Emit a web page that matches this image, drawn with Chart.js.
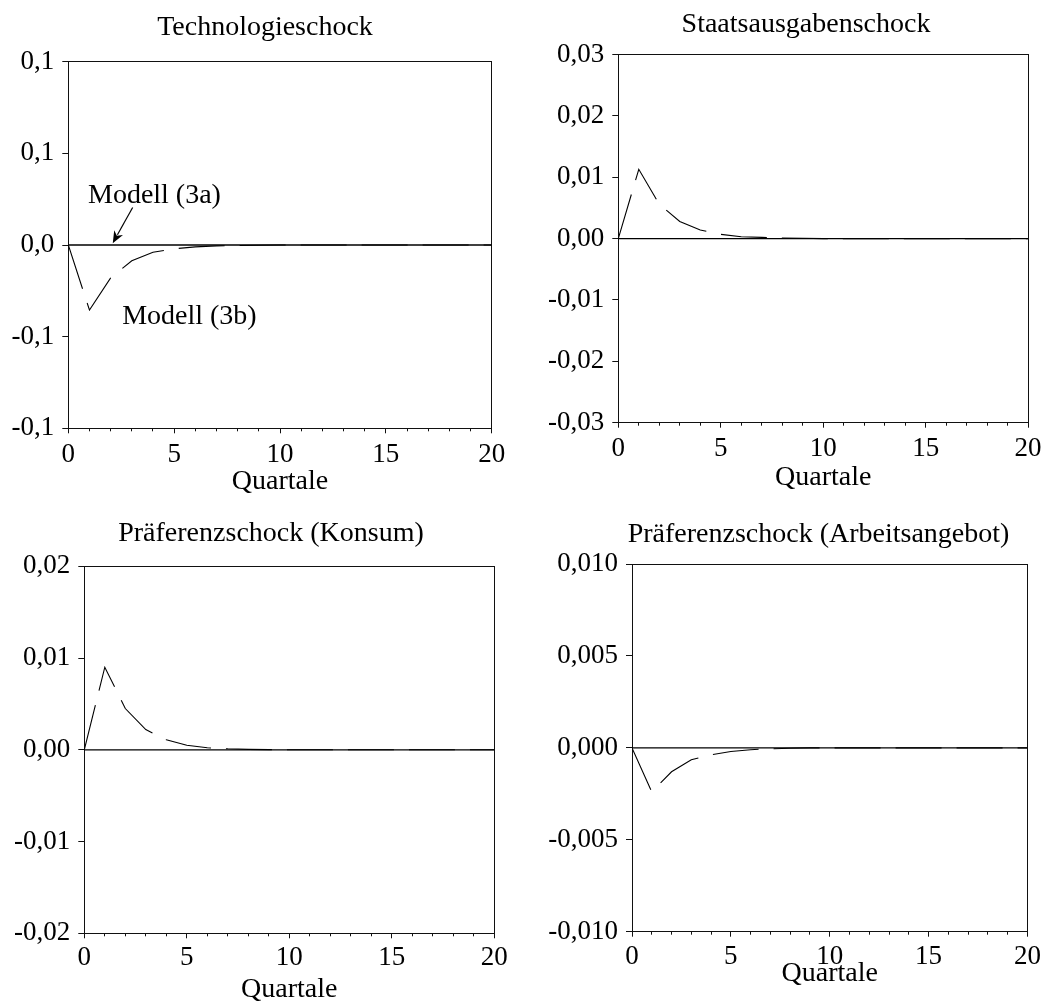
<!DOCTYPE html>
<html>
<head>
<meta charset="utf-8">
<script src="https://cdn.jsdelivr.net/npm/chart.js@4.4.0/dist/chart.umd.min.js"></script>
<style>
html, body { margin: 0; padding: 0; background: #fff; overflow: hidden; width: 1043px; height: 1001px; }
canvas { position: absolute; display: block; }
</style>
</head>
<body>
<script>
// ---------------- data ----------------
const quarters = [0,1,2,3,4,5,6,7,8,9,10,11,12,13,14,15,16,17,18,19,20];
const xTickValues = [0,5,10,15,20];
const xTickLabels = ["0","5","10","15","20"];

const panelTitles = ["Technologieschock", "Staatsausgabenschock", "Präferenzschock (Konsum)", "Präferenzschock (Arbeitsangebot)"];
const xAxisTitle = "Quartale";
const seriesNames = ["Modell (3a)", "Modell (3b)"];

// Modell (3a): solid line
const tech3a  = [0,0,0,0,0,0,0,0,0,0,0,0,0,0,0,0,0,0,0,0,0];
const gov3a   = [0,0,0,0,0,0,0,0,0,0,0,0,0,0,0,0,0,0,0,0,0];
const cons3a  = [0,0,0,0,0,0,0,0,0,0,0,0,0,0,0,0,0,0,0,0,0];
const labor3a = [0,0,0,0,0,0,0,0,0,0,0,0,0,0,0,0,0,0,0,0,0];

// Modell (3b): dashed line
const tech3b  = [0, -0.0355, -0.0180, -0.0086, -0.0040, -0.0021, -0.0010, -0.0005, -0.0003, -0.0001, 0, 0, 0, 0, 0, 0, 0, 0, 0, 0, 0];
const gov3b   = [0, 0.0113, 0.0056, 0.0028, 0.0014, 0.0007, 0.0003, 0.0002, 0.0001, 0.00005, 0, 0, 0, 0, 0, 0, 0, 0, 0, 0, 0];
const cons3b  = [0, 0.0090, 0.0045, 0.0022, 0.0011, 0.0005, 0.00022, 0.00011, 0.00005, 0.00002, 0, 0, 0, 0, 0, 0, 0, 0, 0, 0, 0];
const labor3b = [0, -0.0024, -0.0013, -0.00065, -0.00038, -0.0002, -0.0001, -0.00005, -0.00002, 0, 0, 0, 0, 0, 0, 0, 0, 0, 0, 0, 0];

// y tick values (ascending) and their printed labels
const techYTicks  = [-0.1, -0.05, 0, 0.05, 0.1];
const techYLabels = ["-0,1", "-0,1", "0,0", "0,1", "0,1"];
const govYTicks   = [-0.03, -0.02, -0.01, 0, 0.01, 0.02, 0.03];
const govYLabels  = ["-0,03", "-0,02", "-0,01", "0,00", "0,01", "0,02", "0,03"];
const consYTicks  = [-0.02, -0.01, 0, 0.01, 0.02];
const consYLabels = ["-0,02", "-0,01", "0,00", "0,01", "0,02"];
const laborYTicks  = [-0.01, -0.005, 0, 0.005, 0.01];
const laborYLabels = ["-0,010", "-0,005", "0,000", "0,005", "0,010"];

// annotation anchors in data units (panel 1)
const label3aPos = [4.07, 0.0269];
const label3bPos = [5.72, -0.0391];
const arrowFrom  = [3.04, 0.0205];
const arrowTo    = [2.10, 0.0010];

// ---------------- styling / layout ----------------
const FONT = '"Liberation Serif", "Times New Roman", serif';
const INK = '#000';
const AXIS = '#111';

// canvas box (left, top, width, height) and fixed axis sizes
const layouts = [
  { left:0,   top:0,   w:530,   h:500, wy:68.3, wr:38.3, hx:71.7, tT:11.2, tB:16.9, xPad:5.5, qPad:1.2 },
  { left:540, top:0,   w:531.6, h:500, wy:78.3, wr:43.9, hx:77.3, tT:7.9,  tB:13.0, xPad:4.8, qPad:5.2 },
  { left:0,   top:500, w:542,   h:520, wy:84.3, wr:47.7, hx:86.7, tT:17.2, tB:15.5, xPad:3.8, qPad:13.2 },
  { left:540, top:500, w:556.6, h:520, wy:92.0, wr:69.6, hx:88.3, tT:18.2, tB:12.2, xPad:3.8, qPad:29.2 }
];

function fixedSize(w, h) {
  return function (s) {
    if (w !== null) s.width = w;
    if (h !== null) s.height = h;
    s.paddingLeft = 0; s.paddingRight = 0; s.paddingTop = 0; s.paddingBottom = 0;
  };
}

function pts(ys) { return quarters.map((q, i) => ({ x: q, y: ys[i] })); }

const annotPlugin = {
  id: 'annot',
  afterDatasetsDraw(chart) {
    const ctx = chart.ctx, xs = chart.scales.x, ys = chart.scales.y;
    ctx.save();
    ctx.font = '28px ' + FONT;
    ctx.fillStyle = INK;
    ctx.textAlign = 'center';
    ctx.textBaseline = 'middle';
    ctx.fillText(seriesNames[0], xs.getPixelForValue(label3aPos[0]), ys.getPixelForValue(label3aPos[1]));
    ctx.fillText(seriesNames[1], xs.getPixelForValue(label3bPos[0]), ys.getPixelForValue(label3bPos[1]));
    const x0 = xs.getPixelForValue(arrowFrom[0]), y0 = ys.getPixelForValue(arrowFrom[1]);
    const x1 = xs.getPixelForValue(arrowTo[0]),   y1 = ys.getPixelForValue(arrowTo[1]);
    const ang = Math.atan2(y1 - y0, x1 - x0);
    const hl = 12, hw = 5;
    ctx.strokeStyle = INK; ctx.lineWidth = 1.2;
    ctx.beginPath();
    ctx.moveTo(x0, y0);
    ctx.lineTo(x1 - Math.cos(ang) * hl * 0.8, y1 - Math.sin(ang) * hl * 0.8);
    ctx.stroke();
    ctx.beginPath();
    ctx.moveTo(x1, y1);
    ctx.lineTo(x1 - Math.cos(ang) * hl + Math.sin(ang) * hw, y1 - Math.sin(ang) * hl - Math.cos(ang) * hw);
    ctx.lineTo(x1 - Math.cos(ang) * hl * 0.7, y1 - Math.sin(ang) * hl * 0.7);
    ctx.lineTo(x1 - Math.cos(ang) * hl - Math.sin(ang) * hw, y1 - Math.sin(ang) * hl + Math.cos(ang) * hw);
    ctx.closePath();
    ctx.fill();
    ctx.restore();
  }
};

function makePanel(L, title, a, b, yTicks, yLabels, extraPlugins) {
  const cv = document.createElement('canvas');
  cv.width = Math.round(L.w); cv.height = L.h;
  cv.style.left = L.left + 'px'; cv.style.top = L.top + 'px';
  cv.style.width = Math.round(L.w) + 'px'; cv.style.height = L.h + 'px';
  document.body.appendChild(cv);
  const ymin = yTicks[0], ymax = yTicks[yTicks.length - 1];
  return new Chart(cv, {
    type: 'line',
    data: {
      datasets: [
        { label: seriesNames[1], data: pts(b), borderColor: INK, borderWidth: 1.1, borderDash: [46, 15],
          pointRadius: 0, tension: 0, fill: false, xAxisID: 'x', yAxisID: 'y' },
        { label: seriesNames[0], data: pts(a), borderColor: INK, borderWidth: 1.3,
          pointRadius: 0, tension: 0, fill: false, xAxisID: 'x', yAxisID: 'y' }
      ]
    },
    options: {
      responsive: false,
      animation: false,
      events: [],
      layout: { padding: 0 },
      plugins: {
        legend: { display: false },
        tooltip: { enabled: false },
        title: { display: true, text: title, color: INK,
                 font: { family: FONT, size: 28, weight: 'normal', lineHeight: 1.2 },
                 padding: { top: L.tT, bottom: L.tB } }
      },
      scales: {
        xm: {
          type: 'linear', position: 'bottom', weight: 0, min: 0, max: 20,
          afterBuildTicks: s => { s.ticks = quarters.map(v => ({ value: v })); },
          ticks: { display: false },
          grid: { drawOnChartArea: false, drawTicks: true, tickLength: 3, color: AXIS, lineWidth: 1 },
          border: { display: false },
          afterFit: fixedSize(null, 0)
        },
        x: {
          type: 'linear', position: 'bottom', weight: 1, min: 0, max: 20,
          afterBuildTicks: s => { s.ticks = xTickValues.map(v => ({ value: v })); },
          ticks: { autoSkip: false, maxRotation: 0, padding: L.xPad, color: INK,
                   font: { family: FONT, size: 27, lineHeight: 1.2 },
                   callback: (v, i) => xTickLabels[i] },
          grid: { drawOnChartArea: false, drawTicks: true, tickLength: 5, color: AXIS, lineWidth: 1 },
          border: { display: true, color: AXIS, width: 1 },
          title: { display: true, text: xAxisTitle, color: INK,
                   font: { family: FONT, size: 28, lineHeight: 1.2 },
                   padding: { top: 0, bottom: L.qPad } },
          afterFit: fixedSize(null, L.hx)
        },
        xt: {
          type: 'linear', position: 'top', min: 0, max: 20,
          ticks: { display: false },
          grid: { drawOnChartArea: false, drawTicks: false },
          border: { display: true, color: AXIS, width: 1 },
          afterFit: fixedSize(null, 0)
        },
        y: {
          type: 'linear', position: 'left', min: ymin, max: ymax,
          afterBuildTicks: s => { s.ticks = yTicks.map(v => ({ value: v })); },
          ticks: { autoSkip: false, padding: 8, color: INK,
                   font: { family: FONT, size: 27, lineHeight: 1.2 },
                   callback: (v, i) => yLabels[i] },
          grid: { drawOnChartArea: false, drawTicks: true, tickLength: 6, color: AXIS, lineWidth: 1 },
          border: { display: true, color: AXIS, width: 1 },
          afterFit: fixedSize(L.wy, null)
        },
        yr: {
          type: 'linear', position: 'right', min: ymin, max: ymax,
          ticks: { display: false },
          grid: { drawOnChartArea: false, drawTicks: false },
          border: { display: true, color: AXIS, width: 1 },
          afterFit: fixedSize(L.wr, null)
        }
      }
    },
    plugins: extraPlugins || []
  });
}

makePanel(layouts[0], panelTitles[0], tech3a, tech3b, techYTicks, techYLabels, [annotPlugin]);
makePanel(layouts[1], panelTitles[1], gov3a, gov3b, govYTicks, govYLabels);
makePanel(layouts[2], panelTitles[2], cons3a, cons3b, consYTicks, consYLabels);
makePanel(layouts[3], panelTitles[3], labor3a, labor3b, laborYTicks, laborYLabels);
</script>
</body>
</html>
